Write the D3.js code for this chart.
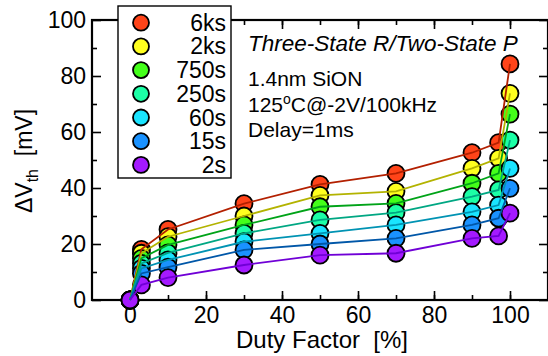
<!DOCTYPE html>
<html>
<head>
<meta charset="utf-8">
<script src="https://cdn.jsdelivr.net/npm/d3@7"></script>
<style>
  body { margin: 0; background: #fff; }
  svg { display: block; font-family: "Liberation Sans", Arial, sans-serif; }
</style>
</head>
<body>
<svg width="548" height="356"></svg>
<script>
// duty factor values [%]
var duty = [0, 3, 10, 30, 50, 70, 90, 97, 100];

var seriesNames = ["6ks", "2ks", "750s", "250s", "60s", "15s", "2s"];

// delta Vth [mV] per stress time
var v6ks  = [0, 18.1, 25.2, 34.4, 41.3, 45.2, 52.6, 56.2, 84.3];
var v2ks  = [0, 16.7, 22.6, 30.0, 37.4, 38.8, 47.0, 50.6, 73.8];
var v750s = [0, 14.9, 19.7, 26.8, 33.3, 34.5, 41.7, 45.2, 66.4];
var v250s = [0, 13.1, 16.8, 23.8, 28.6, 31.2, 36.9, 39.3, 57.1];
var v60s  = [0, 11.3, 14.3, 20.8, 23.8, 26.8, 31.5, 33.9, 47.0];
var v15s  = [0, 9.5, 11.7, 17.9, 20.0, 22.0, 26.8, 29.2, 39.9];
var v2s   = [0, 5.4, 8.0, 12.5, 16.0, 16.7, 22.0, 22.9, 31.0];

var fillColors = ["#ff4419", "#ffff1f", "#44ff1a", "#1cffa6", "#1ae4ff", "#1a92ff", "#a41aff"];
var lineColors = ["#b32000", "#b3b300", "#00a318", "#00a783", "#0093b3", "#0057a8", "#7000d6"];

var xTicks = [0, 20, 40, 60, 80, 100];
var yTicks = [0, 20, 40, 60, 80, 100];

var allSeries = [v6ks, v2ks, v750s, v250s, v60s, v15s, v2s];

var svg = d3.select("svg");
var plotL = 92, plotR = 548, plotT = 20, plotB = 300;

var x = d3.scaleLinear().domain([-10, 110]).range([plotL, plotR]);
var y = d3.scaleLinear().domain([0, 100]).range([plotB, plotT]);

var data = allSeries.map(function(vals, i) {
  return {
    name: seriesNames[i],
    fill: fillColors[i],
    stroke: lineColors[i],
    points: vals.map(function(v, j) { return { x: duty[j], y: v }; })
  };
});

// axes (ticks point inward)
function styleAxis(g) {
  g.select(".domain").remove();
  g.selectAll("line").attr("stroke", "#000").attr("stroke-width", 1.6);
  g.selectAll("text").attr("fill", "#000").attr("font-size", 23);
}

var minorX = d3.range(0, 101, 10);
var minorY = d3.range(10, 100, 20);

svg.append("g").attr("transform", "translate(0," + plotB + ")")
  .call(d3.axisBottom(x).tickValues(xTicks).tickSizeInner(-9).tickPadding(7))
  .call(styleAxis);
svg.append("g").attr("transform", "translate(0," + plotB + ")")
  .call(d3.axisBottom(x).tickValues(minorX).tickSizeInner(-5).tickFormat(""))
  .call(styleAxis);
svg.append("g").attr("transform", "translate(0," + plotT + ")")
  .call(d3.axisTop(x).tickValues(xTicks).tickSizeInner(-9).tickFormat(""))
  .call(styleAxis);
svg.append("g").attr("transform", "translate(0," + plotT + ")")
  .call(d3.axisTop(x).tickValues(minorX).tickSizeInner(-5).tickFormat(""))
  .call(styleAxis);

svg.append("g").attr("transform", "translate(" + plotL + ",0)")
  .call(d3.axisLeft(y).tickValues(yTicks).tickSizeInner(-9).tickPadding(6))
  .call(styleAxis);
svg.append("g").attr("transform", "translate(" + plotL + ",0)")
  .call(d3.axisLeft(y).tickValues(minorY).tickSizeInner(-5).tickFormat(""))
  .call(styleAxis);
svg.append("g").attr("transform", "translate(" + plotR + ",0)")
  .call(d3.axisRight(y).tickValues(yTicks).tickSizeInner(-9).tickFormat(""))
  .call(styleAxis);
svg.append("g").attr("transform", "translate(" + plotR + ",0)")
  .call(d3.axisRight(y).tickValues(minorY).tickSizeInner(-5).tickFormat(""))
  .call(styleAxis);

// frame
svg.append("rect")
  .attr("x", plotL).attr("y", plotT)
  .attr("width", plotR - plotL).attr("height", plotB - plotT)
  .attr("fill", "none").attr("stroke", "#000").attr("stroke-width", 2.2);

// markers
svg.append("g").selectAll("g")
  .data(data)
  .enter().append("g")
  .selectAll("circle")
  .data(function(d) { return d.points.map(function(p) { return { p: p, fill: d.fill }; }); })
  .enter().append("circle")
    .attr("cx", function(d) { return x(d.p.x); })
    .attr("cy", function(d) { return y(d.p.y); })
    .attr("r", 8.5)
    .attr("fill", function(d) { return d.fill; })
    .attr("stroke", "#000")
    .attr("stroke-width", 1.8);

// lines on top of markers
var line = d3.line()
  .x(function(d) { return x(d.x); })
  .y(function(d) { return y(d.y); });

svg.append("g").selectAll("path")
  .data(data)
  .enter().append("path")
    .attr("d", function(d) { return line(d.points); })
    .attr("fill", "none")
    .attr("stroke", function(d) { return d.stroke; })
    .attr("stroke-width", 1.8);

// legend
var legend = svg.append("g");
legend.append("rect")
  .attr("x", 118).attr("y", 6)
  .attr("width", 113).attr("height", 172)
  .attr("fill", "#fff").attr("stroke", "#000").attr("stroke-width", 1.4);

var items = legend.selectAll("g.item")
  .data(data)
  .enter().append("g")
    .attr("class", "item")
    .attr("transform", function(d, i) { return "translate(0," + (22.7 + i * 23.7) + ")"; });
items.append("circle")
  .attr("cx", 141).attr("cy", 0).attr("r", 8)
  .attr("fill", function(d) { return d.fill; })
  .attr("stroke", "#000").attr("stroke-width", 1.8);
items.append("text")
  .attr("x", 226).attr("y", 8)
  .attr("text-anchor", "end")
  .attr("font-size", 23)
  .text(function(d) { return d.name; });

// annotations
svg.append("text").attr("x", 248).attr("y", 51)
  .attr("font-size", 22.5).attr("font-style", "italic")
  .text("Three-State R/Two-State P");
svg.append("text").attr("x", 248).attr("y", 86)
  .attr("font-size", 21).text("1.4nm SiON");
var t2 = svg.append("text").attr("x", 248).attr("y", 112).attr("font-size", 21);
t2.append("tspan").text("125");
t2.append("tspan").attr("dy", -8).attr("font-size", 14).text("o");
t2.append("tspan").attr("dy", 8).text("C@-2V/100kHz");
svg.append("text").attr("x", 248).attr("y", 137)
  .attr("font-size", 21).text("Delay=1ms");

// axis titles
svg.append("text")
  .attr("x", 322).attr("y", 348)
  .attr("text-anchor", "middle").attr("font-size", 24)
  .attr("xml:space", "preserve")
  .text("Duty Factor  [%]");

var yt = svg.append("text")
  .attr("transform", "translate(32,161) rotate(-90)")
  .attr("text-anchor", "middle").attr("font-size", 23)
  .attr("xml:space", "preserve");
yt.append("tspan").text("\u0394V");
yt.append("tspan").attr("dy", 6).attr("font-size", 16).text("th");
yt.append("tspan").attr("dy", -6).text("  [mV]");
</script>
</body>
</html>
